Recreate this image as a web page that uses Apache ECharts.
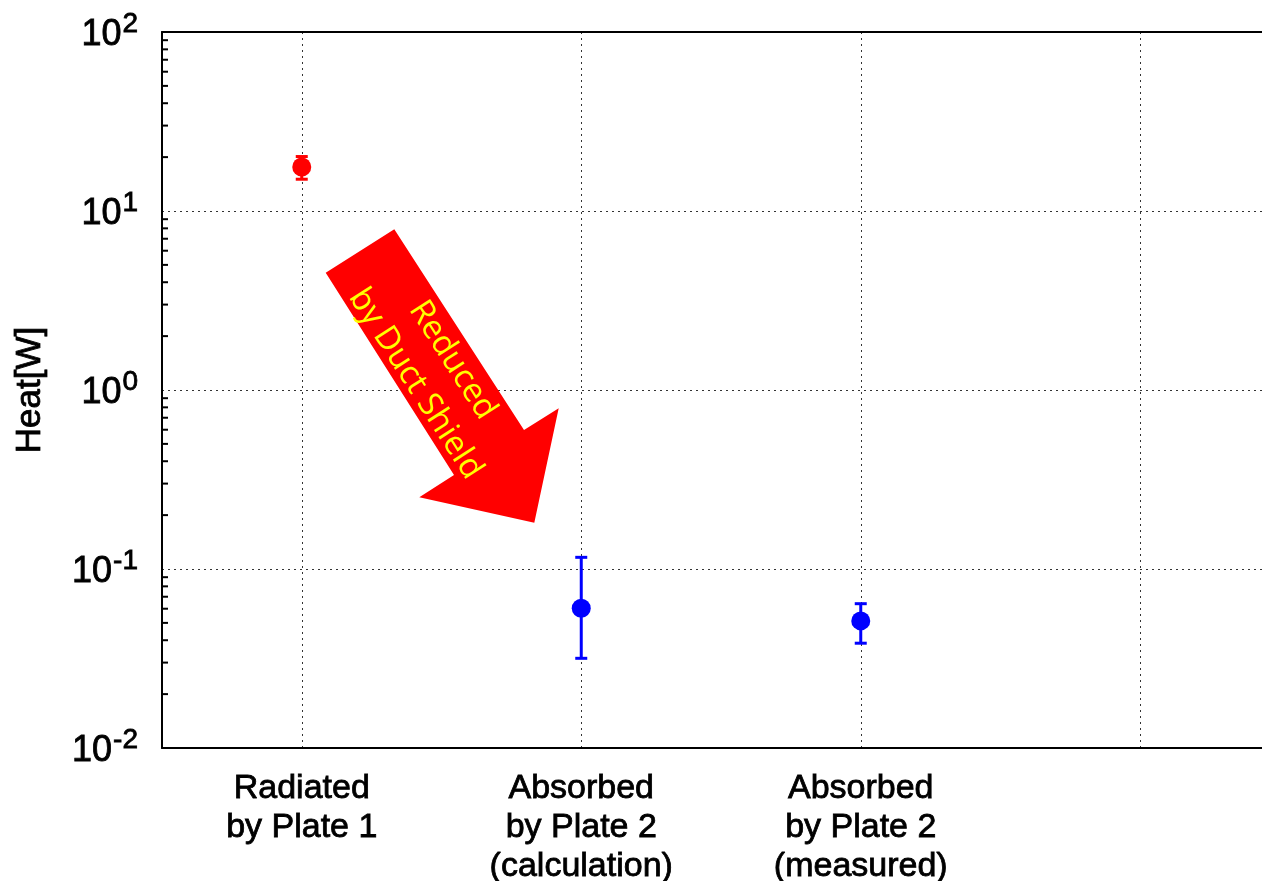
<!DOCTYPE html>
<html>
<head>
<meta charset="utf-8">
<script src="https://cdn.jsdelivr.net/npm/echarts@6/dist/echarts.min.js"></script>
<style>html,body{margin:0;padding:0;background:#fff}#main{width:1262px;height:881px}</style>
</head>
<body>
<div id="main"></div>
<script>
const categories = ['Radiated\nby Plate 1', 'Absorbed\nby Plate 2\n(calculation)', 'Absorbed\nby Plate 2\n(measured)', ''];
const heatValues = [17.63, 0.0603, 0.0513];
const errLower = [15.05, 0.0317, 0.0385];
const errUpper = [20.15, 0.1162, 0.0640];
const pointColors = ['#ff0000', '#0000ff', '#0000ff'];
const minorTickValues = [];
[0.01, 0.1, 1, 10].forEach(d => { for (let k = 2; k <= 9; k++) minorTickValues.push(+(k * d).toPrecision(3)); });

const chart = echarts.init(document.getElementById('main'));
const FONT = '"Liberation Sans", Arial, sans-serif';
const thick = { textBorderColor: '#000', textBorderWidth: 0.8 };

const errData = heatValues.map((v, i) => ({ value: [i, errLower[i], errUpper[i]], itemStyle: { color: pointColors[i] } }));
const pointData = heatValues.map((v, i) => ({ value: [i, v], itemStyle: { color: pointColors[i], opacity: 1 } }));

const option = {
  animation: false,
  grid: { left: 162, top: 32, width: 1118, height: 716, outerBoundsMode: 'none', containLabel: false },
  xAxis: [{
    type: 'category', data: categories, position: 'bottom',
    axisLine: { lineStyle: { color: '#000', width: 2 } },
    axisTick: { inside: true, alignWithLabel: true, length: 12, lineStyle: { color: '#000', width: 2 } },
    axisLabel: Object.assign({ fontFamily: FONT, fontSize: 34, lineHeight: 39, color: '#000', margin: 21, interval: 0, verticalAlign: 'top' }, thick),
    splitLine: { show: true, alignWithLabel: true, lineStyle: { color: '#333', type: [2, 4], width: 1 } }
  }, {
    type: 'category', data: categories, position: 'top',
    axisLine: { lineStyle: { color: '#000', width: 2 } },
    axisTick: { inside: true, alignWithLabel: true, length: 10, lineStyle: { color: '#000', width: 2 } },
    axisLabel: { show: false },
    splitLine: { show: false }
  }],
  yAxis: {
    type: 'log', logBase: 10, min: 0.01, max: 100,
    name: 'Heat[W]', nameLocation: 'middle', nameGap: 114, nameRotate: 90,
    nameTextStyle: Object.assign({ fontFamily: FONT, fontSize: 35, color: '#000' }, thick),
    axisLine: { show: true, lineStyle: { color: '#000', width: 2 } },
    axisTick: { inside: true, length: 12, lineStyle: { color: '#000', width: 2 } },
    splitLine: { show: true, lineStyle: { color: '#333', type: [2, 4], width: 1 } },
    axisLabel: {
      margin: 24,
      formatter: function (v) {
        const e = Math.round(Math.log10(v));
        return '{b|10}{s|' + e + '}';
      },
      rich: {
        b: Object.assign({ fontFamily: FONT, fontSize: 36, color: '#000', padding: [7, 0, 0, 0] }, thick),
        s: Object.assign({ fontFamily: FONT, fontSize: 28, color: '#000', padding: [0, 0, 15, 1] }, thick)
      }
    }
  },
  series: [{
    type: 'custom', name: 'minorTicks', silent: true, z: 3,
    data: minorTickValues.map(v => [0, v]),
    renderItem: function (params, api) {
      const p = api.coord([0, api.value(1)]);
      const x0 = params.coordSys.x;
      return { type: 'line', shape: { x1: x0, y1: p[1], x2: x0 + 6, y2: p[1] }, style: { stroke: '#000', lineWidth: 2 } };
    }
  }, {
    type: 'custom', name: 'errorBars', z: 4,
    data: errData,
    renderItem: function (params, api) {
      const lo = api.coord([api.value(0), api.value(1)]);
      const hi = api.coord([api.value(0), api.value(2)]);
      const c = api.visual('color');
      const w = 6;
      const st = { stroke: c, lineWidth: 3 };
      return { type: 'group', children: [
        { type: 'line', shape: { x1: lo[0], y1: lo[1], x2: hi[0], y2: hi[1] }, style: st },
        { type: 'line', shape: { x1: lo[0] - w, y1: lo[1], x2: lo[0] + w, y2: lo[1] }, style: st },
        { type: 'line', shape: { x1: hi[0] - w, y1: hi[1], x2: hi[0] + w, y2: hi[1] }, style: st }
      ] };
    }
  }, {
    type: 'scatter', name: 'Heat', z: 5, symbol: 'circle', symbolSize: 19,
    itemStyle: { opacity: 1 },
    data: pointData
  }],
  graphic: [{
    type: 'polygon', z: 10,
    shape: { points: [[325.7, 272.7], [394.3, 229.3], [524, 430], [558.7, 408.3], [534.3, 522.7], [419.3, 497.3], [454, 475]] },
    style: { fill: '#ff0000' }
  }, {
    type: 'text', z: 11, x: 434, y: 372, rotation: -57.3 * Math.PI / 180,
    style: { text: 'Reduced\nby Duct Shield', fill: '#ffff00', fontFamily: '"Open Sans", sans-serif', fontSize: 33, lineHeight: 44, align: 'center', verticalAlign: 'middle' }
  }]
};
chart.setOption(option);
</script>
</body>
</html>
